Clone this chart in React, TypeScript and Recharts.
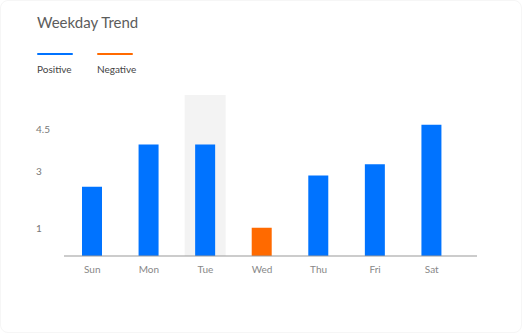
import React from 'react'
import { BarChart, Bar, XAxis, YAxis, Cell } from 'recharts'

const days = ['Sun', 'Mon', 'Tue', 'Wed', 'Thu', 'Fri', 'Sat']
const values = [2.45, 3.95, 3.95, 1, 2.85, 3.25, 4.65]
const negativeDays = ['Wed']
const highlightDay = 'Tue'
const yTicks = [1, 3, 4.5]

const POSITIVE = '#0073ff'
const NEGATIVE = '#ff6a00'

const data = days.map((day, i) => ({ day, value: values[i] }))

const YTick = ({ y, payload }: any) => (
  <text x={36} y={y} dy={4} textAnchor="start" fontSize={10} fill="#777">
    {payload.value}
  </text>
)

const App: React.FC = () => {
  return (
    <div
      style={{
        position: 'absolute',
        top: 0,
        left: 0,
        width: 520,
        height: 331,
        background: '#fff',
        border: '1px solid #f6f6f6',
        borderRadius: 8,
        fontFamily: 'Lato, sans-serif',
        overflow: 'hidden',
      }}
    >
      <div style={{ position: 'absolute', left: 36, top: 12, fontSize: 15, color: '#5c5c5c' }}>
        Weekday Trend
      </div>
      <div style={{ position: 'absolute', left: 36, top: 52, display: 'flex', gap: 24, fontSize: 10, color: '#444' }}>
        {[
          { name: 'Positive', color: POSITIVE },
          { name: 'Negative', color: NEGATIVE },
        ].map((item) => (
          <div key={item.name} style={{ width: 36 }}>
            <div style={{ width: 36, height: 2, background: item.color, borderRadius: 1 }} />
            <div style={{ marginTop: 8 }}>{item.name}</div>
          </div>
        ))}
      </div>
      <div style={{ position: 'absolute', left: -1, top: -1 }}>
        <BarChart width={522} height={333} data={data} margin={{ top: 95, right: 45, bottom: 47, left: 0 }}>
          <XAxis
            dataKey="day"
            axisLine={{ stroke: '#999' }}
            tickLine={false}
            padding={{ left: 0, right: 17 }}
            tick={{ fontSize: 10, fill: '#888', fontFamily: 'Lato, sans-serif' }}
            tickMargin={4}
          />
          <YAxis
            width={64}
            domain={[0, 5.7]}
            ticks={yTicks}
            axisLine={false}
            tickLine={false}
            tick={<YTick />}
          />
          <Bar
            dataKey="value"
            barSize={20}
            isAnimationActive={false}
            background={(props: any) =>
              props.payload && props.payload.day === highlightDay ? (
                <rect
                  key="bg"
                  x={props.x - 10.5}
                  y={props.y}
                  width={props.width + 21}
                  height={props.height}
                  fill="#f3f3f3"
                />
              ) : (
                <g key={'bg' + props.index} />
              )
            }
          >
            {data.map((d) => (
              <Cell key={d.day} fill={negativeDays.includes(d.day) ? NEGATIVE : POSITIVE} />
            ))}
          </Bar>
        </BarChart>
      </div>
    </div>
  )
}

export default App
